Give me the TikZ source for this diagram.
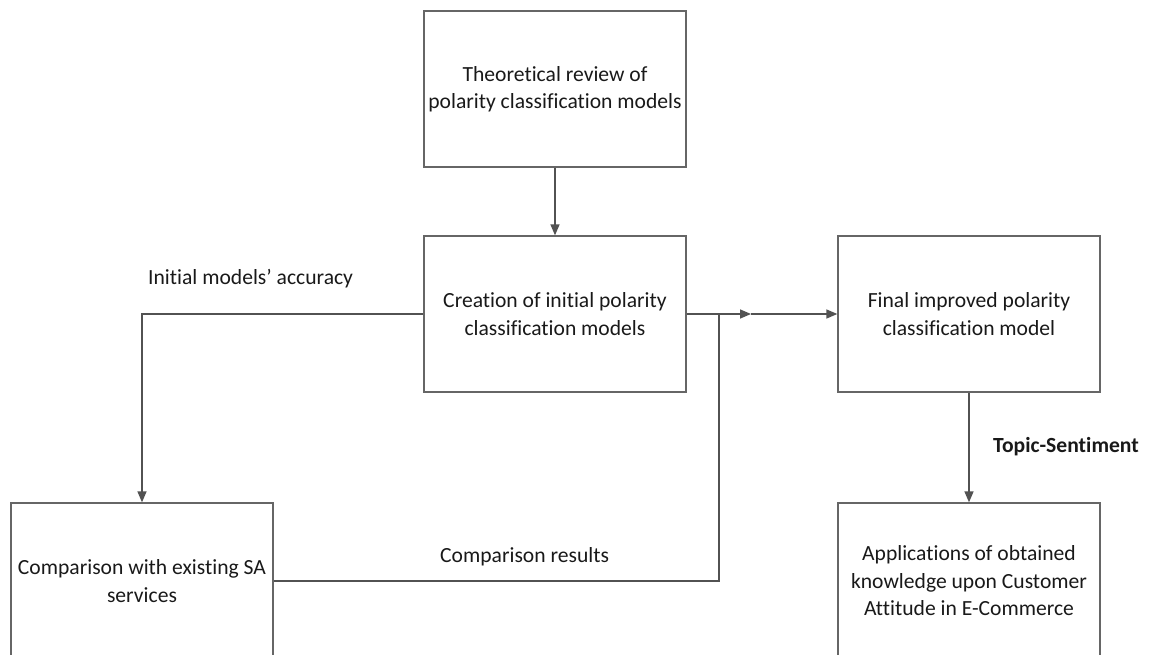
\documentclass[tikz,border=0pt]{standalone}
\usepackage{fontspec}
\setmainfont{Carlito}[Ligatures=NoCommon]
\usetikzlibrary{arrows.meta}
\begin{document}
\begin{tikzpicture}[x=1pt,y=-1pt,
  box/.style={draw=black!60,line width=1.3pt,minimum width=262pt,minimum height=156pt,
    inner sep=0pt,align=center,font=\fontsize{21.6}{27.5}\selectfont,text=black!90},
  lbl/.style={inner sep=0pt,font=\fontsize{21.6}{27.5}\selectfont,text=black!90},
  conn/.style={draw=black!68,line width=1.5pt},
  arr/.style={conn,-{Triangle[length=11pt,width=9pt]}}]
\useasboundingbox (0,0) rectangle (1151,655);
% process boxes
\node[box] (theory) at (555,89) {Theoretical review of\\polarity classification models};
\node[box] (create) at (555,314) {Creation of initial polarity\\classification models};
\node[box] (final) at (969,314) {Final improved polarity\\classification model};
\node[box] (compare) at (142,581) {Comparison with existing SA\\services};
\node[box] (apply) at (969,581) {Applications of obtained\\knowledge upon Customer\\Attitude in E-Commerce};
% junction points on the feed line
\coordinate (join) at (719,314);
\coordinate (mid) at (751,314);
% connectors
\draw[arr] (theory) -- (create);
\draw[arr] (create.west) -| (compare.north);
\draw[arr] (create.east) -- (mid);
\draw[arr] (mid) -- (final.west);
\draw[conn] (compare.east) -| (join);
\draw[arr] (final) -- (apply);
% connector labels
\node[lbl,anchor=west] (accuracy) at (148,279) {Initial models’ accuracy};
\node[lbl,anchor=west] (results) at (440,557) {Comparison results};
\node[lbl,anchor=west,font=\fontsize{21.6}{27.5}\selectfont\bfseries] (topic) at (993,447) {Topic-Sentiment};
\end{tikzpicture}
\end{document}
